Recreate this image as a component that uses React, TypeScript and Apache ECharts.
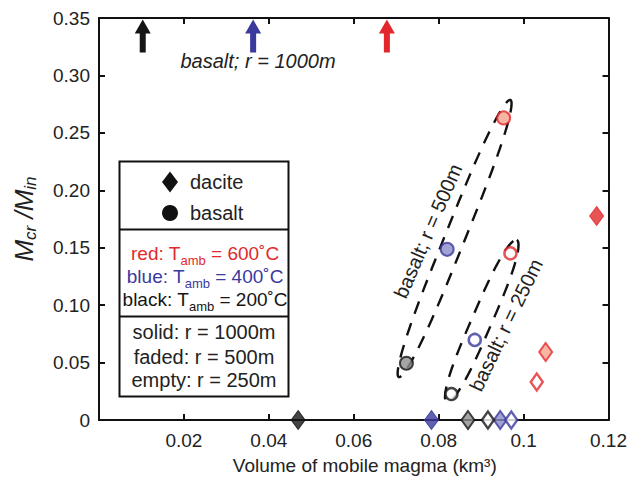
import React, { useEffect, useRef } from 'react';
import * as echarts from 'echarts';

const FONT = '"Liberation Sans", Arial, Helvetica, sans-serif';

// temperature order: 200°C (black), 400°C (blue), 600°C (red)
const tempColors = ['#151515', '#3a3a9c', '#e2282c'];
const fadedColors = ['#8e8e8e', '#8a89c9', '#f5a48c'];

// dacite points [volume, Mcr/Min]
const daciteR1000 = [[0.0469, 0], [0.0783, 0], [0.1172, 0.1776]];
const daciteR500 = [[0.0869, 0], [0.0945, 0], [0.1052, 0.0592]];
const daciteR250 = [[0.0916, 0], [0.0971, 0], [0.1031, 0.0331]];
// basalt points
const basaltR1000OffScale = [0.0103, 0.0363, 0.0678]; // beyond y max -> arrows
const basaltR500 = [[0.0724, 0.0494], [0.082, 0.1486], [0.0953, 0.263]];
const basaltR250 = [[0.083, 0.0226], [0.0885, 0.0697], [0.0969, 0.1451]];

// dashed envelopes: [x1, y1, x2, y2] ends of long axis
const envelopeR500 = [0.0706, 0.0374, 0.0969, 0.2786];
const envelopeR250 = [0.0819, 0.0157, 0.0984, 0.1567];

const xMin = 0, xMax = 0.12, xStep = 0.02;
const yMin = 0, yMax = 0.35, yStep = 0.05;
const xTickLabels = ['', '0.02', '0.04', '0.06', '0.08', '0.1', '0.12'];
const yTickLabels = ['0', '0.05', '0.10', '0.15', '0.20', '0.25', '0.30', '0.35'];

type Kind = 'solid' | 'faded' | 'empty';
function items(pts: number[][], kind: Kind) {
  return pts.map((p, i) => ({
    value: p,
    itemStyle: {
      color: kind === 'solid' ? tempColors[i] : kind === 'faded' ? fadedColors[i] : '#ffffff',
      borderColor: tempColors[i],
      borderWidth: kind === 'solid' ? 1 : kind === 'faded' ? 2 : 2.5,
    },
  }));
}

export default function App() {
  const ref = useRef<HTMLDivElement>(null);
  useEffect(() => {
    if (!ref.current) return;
    const chart = echarts.init(ref.current, null, { renderer: 'svg' });

    const axisLine = { show: true, onZero: false, lineStyle: { color: '#111', width: 2 } };
    const axisTick = { show: true, inside: true, length: 6, lineStyle: { color: '#111', width: 2 } };

    const scatter = (name: string, symbol: string, size: any, data: any[], z: number) => ({
      name, type: 'scatter', symbol, symbolSize: size, data, z, clip: false,
      emphasis: { disabled: true },
    });

    const option: any = {
      animation: false,
      grid: { left: 99, right: 21, top: 18, bottom: 64, containLabel: false },
      xAxis: [
        {
          type: 'value', min: xMin, max: xMax, interval: xStep, position: 'bottom',
          axisLine, axisTick, splitLine: { show: false },
          axisLabel: {
            color: '#222', fontSize: 19, fontFamily: FONT, margin: 11,
            formatter: (v: number) => xTickLabels[Math.round(v / xStep)] ?? '',
          },
          name: 'Volume of mobile magma (km³)', nameLocation: 'middle', nameGap: 36,
          nameTextStyle: { color: '#222', fontSize: 19, fontFamily: FONT, padding: [0, 0, 0, 22] },
        },
        {
          type: 'value', min: xMin, max: xMax, interval: xStep, position: 'top',
          axisLine, axisTick, splitLine: { show: false }, axisLabel: { show: false },
        },
      ],
      yAxis: [
        {
          type: 'value', min: yMin, max: yMax, interval: yStep, position: 'left',
          axisLine, axisTick, splitLine: { show: false },
          axisLabel: {
            color: '#222', fontSize: 19, fontFamily: FONT, margin: 9,
            formatter: (v: number) => yTickLabels[Math.round(v / yStep)] ?? '',
          },
        },
        {
          type: 'value', min: yMin, max: yMax, interval: yStep, position: 'right',
          axisLine, axisTick, splitLine: { show: false }, axisLabel: { show: false },
        },
      ],
      series: [
        {
          type: 'custom', coordinateSystem: 'cartesian2d', z: 3, clip: false,
          data: [envelopeR500, envelopeR250],
          encode: { x: [0, 2], y: [1, 3] },
          renderItem: (params: any, api: any) => {
            const p1 = api.coord([api.value(0), api.value(1)]);
            const p2 = api.coord([api.value(2), api.value(3)]);
            const cx = (p1[0] + p2[0]) / 2, cy = (p1[1] + p2[1]) / 2;
            const dx = p2[0] - p1[0], dy = p2[1] - p1[1];
            const L = Math.hypot(dx, dy);
            const a = L / 2, b = 10;
            const ux = dx / L, uy = dy / L, nx = -uy, ny = ux;
            const pts: number[][] = [];
            const N = 160;
            for (let k = 0; k <= N; k++) {
              const t = (k / N) * Math.PI * 2;
              const c = Math.cos(t), s = Math.sin(t);
              const u = a * Math.sign(c) * Math.pow(Math.abs(c), 2 / 3);
              const w = b * s;
              pts.push([cx + u * ux + w * nx, cy + u * uy + w * ny]);
            }
            return {
              type: 'polygon', shape: { points: pts },
              style: { fill: 'none', stroke: '#111', lineWidth: 2.4, lineDash: [13, 10] },
            };
          },
        },
        {
          type: 'custom', coordinateSystem: 'cartesian2d', z: 4, clip: false,
          data: basaltR1000OffScale.map((x, i) => [x, yMax, i]),
          encode: { x: 0, y: 1 },
          renderItem: (params: any, api: any) => {
            const p = api.coord([api.value(0), api.value(1)]);
            const col = tempColors[api.value(2)];
            const x = p[0], y = p[1];
            const pts = [
              [x, y + 1.5], [x + 8, y + 15.5], [x + 3, y + 15.5], [x + 3, y + 34.5],
              [x - 3, y + 34.5], [x - 3, y + 15.5], [x - 8, y + 15.5],
            ];
            return { type: 'polygon', shape: { points: pts }, style: { fill: col, stroke: 'none' } };
          },
        },
        scatter('dacite r=1000m', 'diamond', [14, 19], items(daciteR1000, 'solid'), 5),
        scatter('dacite r=500m', 'diamond', [13, 18], items(daciteR500, 'faded'), 5),
        scatter('dacite r=250m', 'diamond', [12, 17], items(daciteR250, 'empty'), 5),
        scatter('basalt r=500m', 'circle', 13, items(basaltR500, 'faded'), 6),
        scatter('basalt r=250m', 'circle', 12, items(basaltR250, 'empty'), 6),
      ],
      graphic: [
        {
          type: 'text', x: 24, y: 219, rotation: Math.PI / 2, z: 50,
          style: {
            text: '{m|M}{s|cr}{m| /M}{s|in}', align: 'center', verticalAlign: 'middle',
            rich: {
              m: { fontSize: 26, fontStyle: 'italic', fontFamily: FONT, fill: '#222', lineHeight: 30 },
              s: { fontSize: 17, fontStyle: 'italic', fontFamily: FONT, fill: '#222', lineHeight: 16, verticalAlign: 'bottom' },
            },
          },
        },
        {
          type: 'text', x: 258, y: 61, z: 50,
          style: { text: 'basalt; r = 1000m', fontSize: 20, fontStyle: 'italic', fontFamily: FONT, fill: '#222', align: 'center', verticalAlign: 'middle' },
        },
        {
          type: 'text', x: 428, y: 231, rotation: (66.8 * Math.PI) / 180, z: 50,
          style: { text: 'basalt; r = 500m', fontSize: 20, fontFamily: FONT, fill: '#222', align: 'center', verticalAlign: 'middle' },
        },
        {
          type: 'text', x: 506, y: 325, rotation: (64.4 * Math.PI) / 180, z: 50,
          style: { text: 'basalt; r = 250m', fontSize: 20, fontFamily: FONT, fill: '#222', align: 'center', verticalAlign: 'middle' },
        },
        {
          type: 'group', z: 100,
          children: [
            { type: 'rect', shape: { x: 119.5, y: 161.5, width: 169, height: 235 }, style: { fill: '#fff', stroke: '#111', lineWidth: 2 } },
            { type: 'line', shape: { x1: 119.5, y1: 229.5, x2: 288.5, y2: 229.5 }, style: { stroke: '#111', lineWidth: 2 } },
            { type: 'line', shape: { x1: 119.5, y1: 316.5, x2: 288.5, y2: 316.5 }, style: { stroke: '#111', lineWidth: 2 } },
            { type: 'polygon', shape: { points: [[170, 171.5], [178, 182], [170, 192.5], [162, 182]] }, style: { fill: '#111' } },
            { type: 'circle', shape: { cx: 170, cy: 213, r: 8 }, style: { fill: '#111' } },
            { type: 'text', x: 190, y: 182, style: { text: 'dacite', fontSize: 20, fontFamily: FONT, fill: '#222', verticalAlign: 'middle' } },
            { type: 'text', x: 190, y: 213, style: { text: 'basalt', fontSize: 20, fontFamily: FONT, fill: '#222', verticalAlign: 'middle' } },
            ...[
              { t: 'red', v: '600', c: tempColors[2], y: 253 },
              { t: 'blue', v: '400', c: tempColors[1], y: 276 },
              { t: 'black', v: '200', c: tempColors[0], y: 299 },
            ].map((r) => ({
              type: 'text', x: 205, y: r.y,
              style: {
                text: `{m|${r.t}: T}{s|amb}{m| = ${r.v}˚C}`, align: 'center', verticalAlign: 'middle',
                rich: {
                  m: { fontSize: 19, fontFamily: FONT, fill: r.c, lineHeight: 28 },
                  s: { fontSize: 13, fontFamily: FONT, fill: r.c, lineHeight: 12, verticalAlign: 'bottom' },
                },
              },
            })),
            { type: 'text', x: 204, y: 332, style: { text: 'solid: r = 1000m', fontSize: 20, fontFamily: FONT, fill: '#222', align: 'center', verticalAlign: 'middle' } },
            { type: 'text', x: 204, y: 357, style: { text: 'faded: r = 500m', fontSize: 20, fontFamily: FONT, fill: '#222', align: 'center', verticalAlign: 'middle' } },
            { type: 'text', x: 204, y: 380, style: { text: 'empty: r = 250m', fontSize: 20, fontFamily: FONT, fill: '#222', align: 'center', verticalAlign: 'middle' } },
          ],
        },
      ],
    };
    chart.setOption(option);
    return () => chart.dispose();
  }, []);
  return <div ref={ref} style={{ position: 'fixed', left: 0, top: 0, width: 630, height: 484, background: '#fff' }} />;
}
